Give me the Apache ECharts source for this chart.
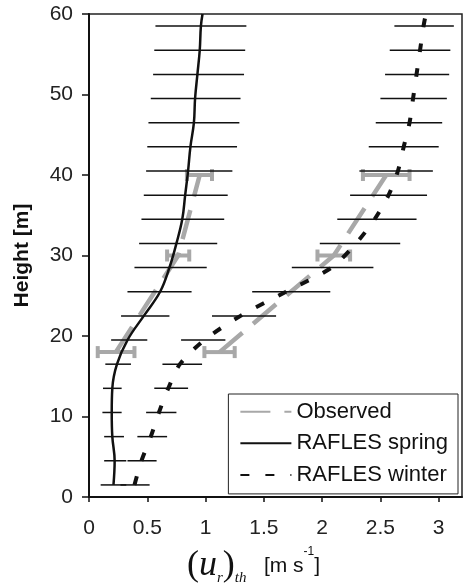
<!DOCTYPE html>
<html>
<head>
    <meta charset="utf-8">
    <title>Threshold friction velocity profile</title>
    <script type="text/javascript" src="https://cdn.jsdelivr.net/npm/echarts@6/dist/echarts.min.js"></script>
    <style>html,body{margin:0;padding:0;background:#fff;}</style>
</head>
<body>
<div id="main" style="width:464px;height:584px;"></div>

<script type="text/javascript">
    // heights of the model levels [m]
    var heights = [1.5, 4.5, 7.5, 10.5, 13.5, 16.5, 19.5, 22.5, 25.5, 28.5, 31.5, 34.5, 37.5, 40.5, 43.5, 46.5, 49.5, 52.5, 55.5, 58.5];
    // RAFLES spring: mean and range
    var springMean = [0.21, 0.22, 0.20, 0.195, 0.20, 0.24, 0.33, 0.47, 0.61, 0.69, 0.75, 0.80, 0.825, 0.85, 0.87, 0.90, 0.91, 0.93, 0.95, 0.96];
    var springLow = [0.10, 0.13, 0.13, 0.115, 0.12, 0.14, 0.19, 0.275, 0.33, 0.39, 0.43, 0.45, 0.47, 0.49, 0.50, 0.51, 0.53, 0.55, 0.56, 0.57];
    var springHigh = [0.32, 0.32, 0.30, 0.28, 0.28, 0.36, 0.50, 0.69, 0.88, 1.01, 1.10, 1.16, 1.19, 1.23, 1.27, 1.29, 1.30, 1.33, 1.34, 1.35];
    var springTop = 0.974;
    // RAFLES winter: mean and range
    var winterMean = [0.39, 0.45, 0.53, 0.60, 0.68, 0.78, 0.99, 1.30, 1.69, 2.08, 2.29, 2.45, 2.57, 2.65, 2.70, 2.75, 2.78, 2.81, 2.84, 2.87];
    var winterLow = [0.27, 0.33, 0.415, 0.49, 0.56, 0.63, 0.79, 1.055, 1.40, 1.74, 1.98, 2.13, 2.24, 2.32, 2.40, 2.46, 2.50, 2.54, 2.58, 2.62];
    var winterHigh = [0.52, 0.58, 0.67, 0.75, 0.85, 0.97, 1.17, 1.605, 2.07, 2.44, 2.67, 2.81, 2.90, 2.95, 3.00, 3.03, 3.07, 3.09, 3.10, 3.13];
    var winterTop = 2.89;
    // observed
    var obsHeights = [18, 30, 40];
    var obsSpring = [0.23, 0.765, 0.95];
    var obsSpringLow = [0.075, 0.67, 0.84];
    var obsSpringHigh = [0.39, 0.86, 1.055];
    var obsWinter = [1.12, 2.10, 2.55];
    var obsWinterLow = [0.99, 1.96, 2.35];
    var obsWinterHigh = [1.25, 2.24, 2.75];
    // axis ticks
    var xTicks = [0, 0.5, 1, 1.5, 2, 2.5, 3];

    var chart = echarts.init(document.getElementById('main'));

    var gray = '#a8a8a8';
    var black = '#111';
    var sans = '"Liberation Sans", Arial, sans-serif';
    var serif = '"Liberation Serif", "DejaVu Serif", serif';

    function pairs(xs, ys) {
        return ys.map(function (y, i) { return [xs[i], y]; });
    }
    function ranges(ys, lo, hi) {
        return ys.map(function (y, i) { return [y, lo[i], hi[i]]; });
    }
    // horizontal range bar, optional end caps
    function barRender(color, width, cap) {
        return function (params, api) {
            var y = api.value(0);
            var p1 = api.coord([api.value(1), y]);
            var p2 = api.coord([api.value(2), y]);
            var style = {stroke: color, lineWidth: width};
            var children = [{type: 'line', shape: {x1: p1[0], y1: p1[1], x2: p2[0], y2: p2[1]}, style: style}];
            if (cap) {
                [p1, p2].forEach(function (p) {
                    children.push({type: 'line', shape: {x1: p[0], y1: p[1] - cap, x2: p[0], y2: p[1] + cap}, style: style});
                });
            }
            return {type: 'group', children: children};
        };
    }

    var option = {
        backgroundColor: '#fff',
        animation: false,
        grid: {
            left: 89, right: 2, top: 14, bottom: 87,
            outerBoundsMode: 'none',
            containLabel: false,
            show: true, borderColor: '#222', borderWidth: 1.5
        },
        legend: {
            data: ['Observed', 'RAFLES spring', 'RAFLES winter'],
            orient: 'vertical',
            right: 6,
            top: 394,
            itemWidth: 51,
            itemHeight: 22,
            itemGap: 9.6,
            padding: [6.7, 10, 8, 11],
            borderColor: '#222',
            borderWidth: 1,
            backgroundColor: '#fff',
            itemStyle: {opacity: 0},
            textStyle: {fontFamily: sans, fontSize: 22, color: '#111'}
        },
        xAxis: {
            type: 'value',
            min: 0,
            max: 3.2,
            splitLine: {show: false},
            axisLine: {lineStyle: {color: '#111', width: 2}},
            axisTick: {customValues: xTicks, length: 5, lineStyle: {color: '#111', width: 1.5}},
            axisLabel: {customValues: xTicks, margin: 21, fontFamily: sans, fontSize: 21, color: '#222'},
            name: '{p|(}{u|u}{s|r}{p|)}{s|th}{t|   [m s}{sup|-1}{t|]}',
            nameLocation: 'middle',
            nameGap: 49,
            nameTextStyle: {
                padding: [0, 44, 0, 0],
                rich: {
                    p: {fontFamily: serif, fontSize: 36, lineHeight: 40, color: '#111'},
                    u: {fontFamily: serif, fontStyle: 'italic', fontSize: 36, lineHeight: 40, color: '#111'},
                    s: {fontFamily: serif, fontStyle: 'italic', fontSize: 15, lineHeight: 15, verticalAlign: 'bottom', color: '#111'},
                    t: {fontFamily: sans, fontSize: 21, lineHeight: 40, color: '#111'},
                    sup: {fontFamily: sans, fontSize: 12, lineHeight: 26, verticalAlign: 'top', color: '#111'}
                }
            }
        },
        yAxis: {
            type: 'value',
            min: 0,
            max: 60,
            interval: 10,
            splitLine: {show: false},
            axisLine: {lineStyle: {color: '#111', width: 2}},
            axisTick: {length: 7, lineStyle: {color: '#111', width: 1.5}},
            axisLabel: {margin: 16, fontFamily: sans, fontSize: 21, color: '#222'},
            name: 'Height [m]',
            nameLocation: 'middle',
            nameGap: 56,
            nameTextStyle: {fontFamily: sans, fontSize: 21, fontWeight: 'bold', color: '#111'}
        },
        series: [
            {
                name: 'obsSpringBars', type: 'custom', z: 2,
                renderItem: barRender(gray, 4, 6),
                encode: {x: [1, 2], y: 0},
                data: ranges(obsHeights, obsSpringLow, obsSpringHigh)
            },
            {
                name: 'obsWinterBars', type: 'custom', z: 2,
                renderItem: barRender(gray, 4, 6),
                encode: {x: [1, 2], y: 0},
                data: ranges(obsHeights, obsWinterLow, obsWinterHigh)
            },
            {
                name: 'Observed', type: 'line', z: 2, symbol: 'none',
                lineStyle: {color: gray, width: 4.5, type: [30, 14]},
                itemStyle: {color: gray},
                data: pairs(obsSpring, obsHeights)
            },
            {
                name: 'Observed', type: 'line', z: 2, symbol: 'none',
                lineStyle: {color: gray, width: 4.5, type: [30, 14]},
                itemStyle: {color: gray},
                data: pairs(obsWinter, obsHeights)
            },
            {
                name: 'springBars', type: 'custom', z: 3,
                renderItem: barRender(black, 1.5, 0),
                encode: {x: [1, 2], y: 0},
                data: ranges(heights, springLow, springHigh)
            },
            {
                name: 'winterBars', type: 'custom', z: 3,
                renderItem: barRender(black, 1.5, 0),
                encode: {x: [1, 2], y: 0},
                data: ranges(heights, winterLow, winterHigh)
            },
            {
                name: 'RAFLES spring', type: 'line', z: 4, symbol: 'none', smooth: 0.4,
                lineStyle: {color: black, width: 2.5},
                itemStyle: {color: black},
                data: pairs(springMean, heights).concat([[springTop, 60]])
            },
            {
                name: 'RAFLES winter', type: 'line', z: 4, symbol: 'none', smooth: 0.3,
                lineStyle: {color: black, width: 4, type: [9, 16]},
                itemStyle: {color: black},
                data: pairs(winterMean, heights).concat([[winterTop, 60]])
            }
        ]
    };
    chart.setOption(option);
</script>
</body>
</html>
